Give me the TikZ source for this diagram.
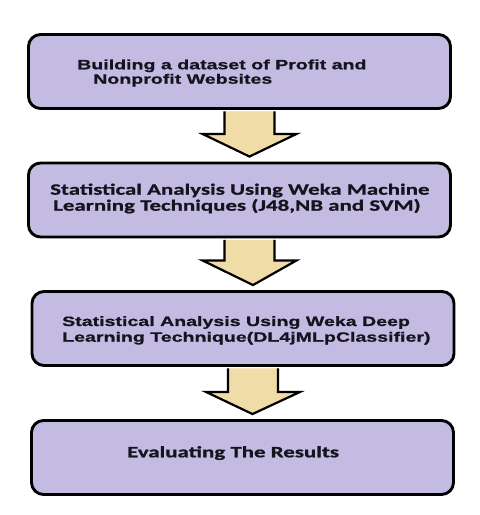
\documentclass[tikz,border=0pt]{standalone}
\usepackage{fontspec}
\usetikzlibrary{calc}
\newfontfamily\arialfam[FakeStretch=1.45,BoldFeatures={FakeBold=1}]{Liberation Sans}
\newfontfamily\calfam[FakeStretch=1.45,BoldFeatures={FakeBold=1}]{Carlito}
\definecolor{boxfill}{HTML}{C4BBE3}
\definecolor{arrowfill}{HTML}{F0DCA6}
\definecolor{txt}{HTML}{15141E}
\tikzset{
  box/.style={draw=black, line width=2.9pt, rounded corners=12pt, fill=boxfill,
    minimum width=422pt, minimum height=74pt, inner sep=0pt},
  barrow/.style={draw=black, line width=2.2pt, fill=arrowfill, line join=miter},
  ta/.style={anchor=base west, inner sep=0pt, text=txt,
    font=\arialfam\bfseries\fontsize{13.5}{16}\selectfont},
  tc/.style={anchor=base west, inner sep=0pt, text=txt,
    font=\calfam\bfseries\fontsize{15.8}{18}\selectfont}
}
\newcommand{\blkarrow}[3]{%
  \draw[barrow] ($(#1.south)+(-15,-1.4)$) -- ($(#1.south)+(-15,-#3)$)
    -- ($(#1.south)+(-37,-#3)$) -- ($(#2.north)+(10,5)$)
    -- ($(#1.south)+(57,-#3)$) -- ($(#1.south)+(35,-#3)$)
    -- ($(#1.south)+(35,-1.4)$);}
\begin{document}
\begin{tikzpicture}[x=1pt,y=1pt]
\useasboundingbox (0,0) rectangle (480,515);
\fill[white] (0,0) rectangle (480,515);
% boxes
\node[box] (b1) at (239.5,443.5) {};
\node[box] (b2) at (239.5,315) {};
\node[box] (b3) at (243,186.5) {};
\node[box] (b4) at (242.5,57.5) {};
% block arrows
\blkarrow{b1}{b2}{24}
\blkarrow{b2}{b3}{22}
\blkarrow{b3}{b4}{25}
% texts
\node[ta] (t1a) at (77,445.7) {Building a dataset of Profit and};
\node[ta] (t1b) at (93,431.3) {Nonprofit Websites};
\node[tc] (t2a) at (50,320.3) {Statistical Analysis Using Weka Machine};
\node[tc] (t2b) at (53,304.3) {Learning Techniques (J48,NB and SVM)};
\node[ta] (t3a) at (62,189) {Statistical Analysis Using Weka Deep};
\node[ta] (t3b) at (62,173.3) {Learning Technique(DL4jMLpClassifier)};
\node[tc] (t4) at (127,57.7) {Evaluating The Results};
\end{tikzpicture}
\end{document}
